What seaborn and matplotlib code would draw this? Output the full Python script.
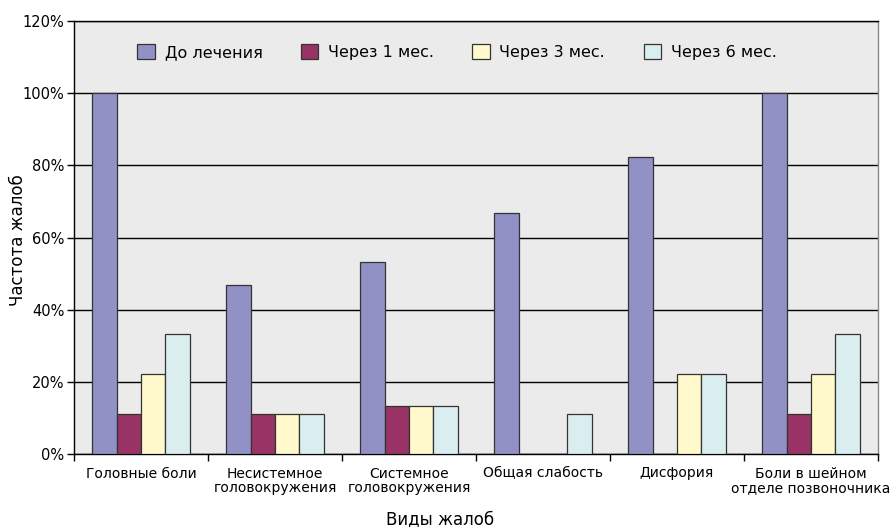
import matplotlib
matplotlib.use("Agg")
import matplotlib.pyplot as plt
import matplotlib.ticker as mticker
import numpy as np
import pandas as pd
import seaborn as sns

categories = [
    "Головные боли",
    "Несистемное\nголовокружения",
    "Системное\nголовокружения",
    "Общая слабость",
    "Дисфория",
    "Боли в шейном\nотделе позвоночника",
]
series = ["До лечения", "Через 1 мес.", "Через 3 мес.", "Через 6 мес."]
before = [100.0, 46.7, 53.3, 66.7, 82.2, 100.0]
month1 = [11.1, 11.1, 13.3, 0.0, 0.0, 11.1]
month3 = [22.2, 11.1, 13.3, 0.0, 22.2, 22.2]
month6 = [33.3, 11.1, 13.3, 11.1, 22.2, 33.3]
colors = ["#9191C6", "#993366", "#FFF9CC", "#DAEEF0"]

rows = []
for name, vals in zip(series, [before, month1, month3, month6]):
    for cat, v in zip(categories, vals):
        rows.append({"Категория": cat, "Серия": name, "Значение": v})
df = pd.DataFrame(rows)

sns.set_theme(style="white")
plt.rcParams["font.family"] = ["DejaVu Sans"]
plt.rcParams["text.color"] = "black"
plt.rcParams["xtick.color"] = "black"
plt.rcParams["ytick.color"] = "black"

fig = plt.figure(figsize=(8.91, 5.27), dpi=100)
ax = fig.add_axes([74 / 891, 1 - 454 / 527, (878 - 74) / 891, (454 - 21) / 527])
ax.set_facecolor("#EBEBEB")

sns.barplot(
    data=df, x="Категория", y="Значение", hue="Серия",
    order=categories, hue_order=series, palette=colors,
    width=0.73, edgecolor="#333333", linewidth=0.9, saturation=1,
    errorbar=None, ax=ax, zorder=3,
)

ax.set_ylim(0, 120)
ax.set_xlim(-0.5, len(categories) - 0.5)
ax.yaxis.set_major_locator(mticker.MultipleLocator(20))
ax.yaxis.set_major_formatter(mticker.FuncFormatter(lambda v, p: f"{v:.0f}%"))
ax.grid(axis="y", color="black", linewidth=1.0, zorder=1)
ax.set_axisbelow(True)

# category boundaries carry the tick marks; labels sit at the centers
ax.set_xticks(np.arange(len(categories)))
ax.set_xticklabels(categories, fontsize=10, linespacing=1.05)
ax.set_xticks(np.arange(len(categories) + 1) - 0.5, minor=True)
ax.tick_params(axis="x", which="major", bottom=True, length=0, pad=9)
ax.tick_params(axis="x", which="minor", bottom=True, length=5, width=1,
               color="black", direction="out")
ax.tick_params(axis="y", left=True, length=5, width=1, color="black",
               direction="out", labelsize=10.5, pad=2)

for side in ["left", "bottom", "top"]:
    ax.spines[side].set_color("black")
    ax.spines[side].set_linewidth(1.0)
ax.spines["top"].set_visible(True)
ax.spines["right"].set_color("#888888")
ax.spines["right"].set_linewidth(1.0)

ax.set_xlabel("")
ax.set_ylabel("")
fig.text(440 / 891, 1 - 519 / 527, "Виды жалоб", ha="center", va="center", fontsize=12)
fig.text(18 / 891, 1 - 240 / 527, "Частота жалоб", ha="center", va="center",
         rotation=90, fontsize=12)

handles, labels = ax.get_legend_handles_labels()
ax.legend(handles, labels, ncol=4, frameon=False, loc="center",
          bbox_to_anchor=((457 - 74) / (878 - 74), 1 - (52 - 21) / (454 - 21)),
          fontsize=11.5, handlelength=1.1, handleheight=1.1,
          handletextpad=0.6, columnspacing=2.4)

fig.savefig("out.png", dpi=100)
